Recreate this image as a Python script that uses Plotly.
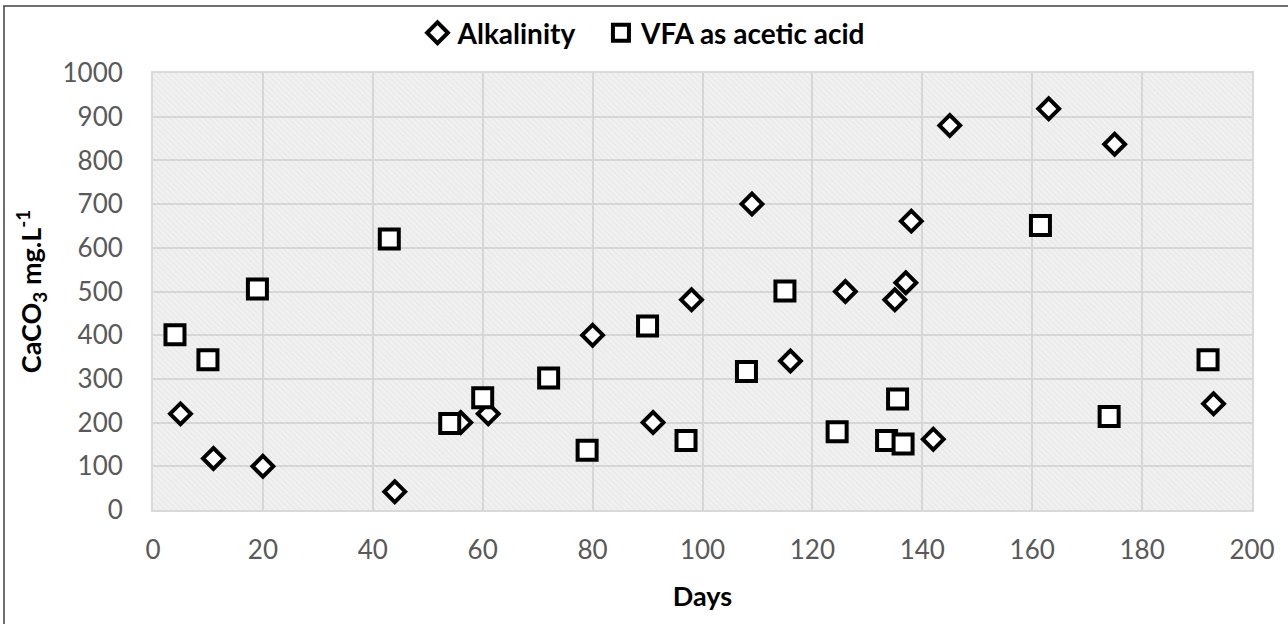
import plotly.graph_objects as go

# Data
alk_days = [5, 11, 20, 44, 56, 61, 80, 91, 98, 109, 116, 126, 135, 137, 138, 142, 145, 163, 175, 193]
alk_vals = [220, 118, 100, 42, 200, 220, 400, 200, 481, 700, 341, 500, 481, 520, 661, 162, 880, 918, 837, 243]

vfa_days = [4, 10, 19, 43, 54, 60, 72, 79, 90, 97, 108, 115, 124.5, 133.5, 135.5, 136.5, 161.5, 174, 192]
vfa_vals = [401, 344, 506, 620, 198, 257, 302, 137, 421, 159, 317, 501, 179, 159, 254, 151, 651, 214, 344]

series_names = ["Alkalinity", "VFA as acetic acid"]

x_range = [0, 200]
y_range = [0, 1000]

FONT = "Lato"
TICK_GREY = "#595959"
GRID = "#d9d9d9"
NBSP = "\u00a0"

fig = go.Figure()

# hatched plot-area background
fig.add_trace(go.Scatter(
    x=[x_range[0], x_range[1], x_range[1], x_range[0], x_range[0]],
    y=[y_range[0], y_range[0], y_range[1], y_range[1], y_range[0]],
    mode="none", fill="toself", fillcolor="rgba(0,0,0,0)",
    fillpattern=dict(shape="\\", fgcolor="rgba(0,0,0,0.07)", bgcolor="rgba(0,0,0,0)",
                     size=4, solidity=0.35),
    hoverinfo="skip", showlegend=False,
))

fig.add_trace(go.Scatter(
    x=alk_days, y=alk_vals, mode="markers", name=series_names[0] + NBSP * 3,
    marker=dict(symbol="diamond", size=16, color="white",
                line=dict(color="black", width=4)),
))
fig.add_trace(go.Scatter(
    x=vfa_days, y=vfa_vals, mode="markers", name=series_names[1],
    marker=dict(symbol="square", size=19, color="white",
                line=dict(color="black", width=4)),
))

fig.update_layout(
    width=1288, height=624,
    margin=dict(l=153, r=36, t=73, b=114, autoexpand=False),
    paper_bgcolor="white",
    plot_bgcolor="#f1f1f1",
    font=dict(family=FONT, color="black"),
    legend=dict(
        orientation="h", xref="container", yref="container",
        x=0.5, xanchor="center", y=0.947, yanchor="middle",
        font=dict(family=FONT, size=28, color="black", weight="bold"),
        bgcolor="rgba(0,0,0,0)", itemsizing="trace",
        tracegroupgap=0, itemwidth=30,
    ),
    xaxis=dict(
        range=x_range, dtick=20, tick0=0,
        showgrid=True, gridcolor=GRID, gridwidth=2,
        zeroline=False, showline=True, linecolor=GRID, linewidth=2, mirror=True,
        ticks="", ticklabelstandoff=16,
        tickfont=dict(family=FONT, size=26, color=TICK_GREY),
        title=dict(text="Days", font=dict(family=FONT, size=27, color="black", weight="bold"),
                   standoff=23),
    ),
    yaxis=dict(
        range=y_range, dtick=100, tick0=0,
        showgrid=True, gridcolor=GRID, gridwidth=2,
        zeroline=False, showline=True, linecolor=GRID, linewidth=2, mirror=True,
        ticks="", ticklabelstandoff=23,
        tickfont=dict(family=FONT, size=26, color=TICK_GREY),
        title=dict(text="CaCO<sub>3</sub> mg.L<sup>-1</sup>",
                   font=dict(family=FONT, size=27, color="black", weight="bold"),
                   standoff=13),
    ),
    shapes=[dict(
        type="rect", xref="paper", yref="paper",
        x0=(4 - 153) / 1099, x1=(1320 - 153) / 1099,
        y0=(510 - 660) / 437, y1=(510 - 6) / 437,
        line=dict(color="#404040", width=1.5), fillcolor="rgba(0,0,0,0)",
        layer="above",
    )],
)

fig.write_html("out.html")
